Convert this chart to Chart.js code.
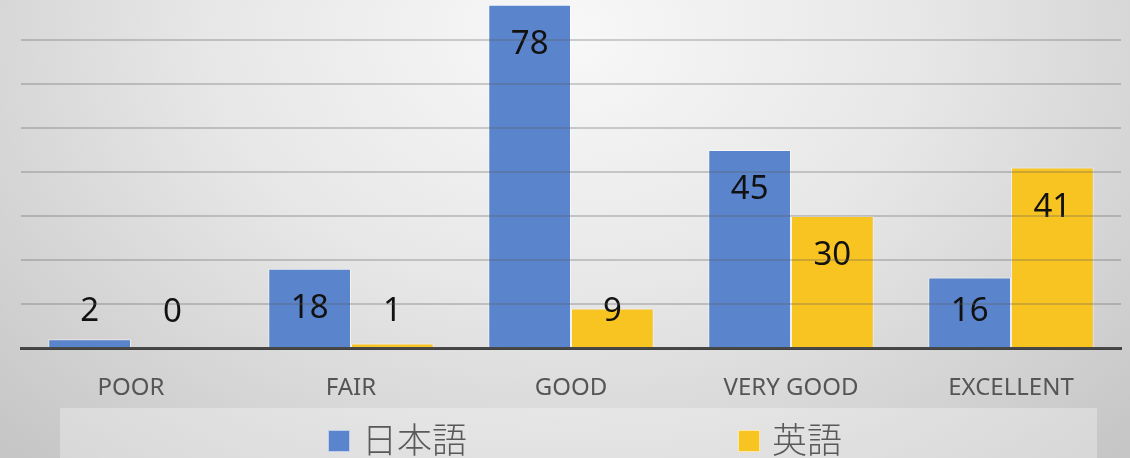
<!DOCTYPE html>
<html>
<head>
<meta charset="utf-8">
<script src="https://cdn.jsdelivr.net/npm/chart.js@4.4.1/dist/chart.umd.min.js"></script>
<style>
  html, body { margin: 0; padding: 0; }
  #wrap {
    position: relative;
    width: 1130px;
    height: 458px;
    overflow: hidden;
    background: radial-gradient(ellipse 70% 125% at 50% 8%, #f8f8f8 0%, #e7e7e7 45%, #c6c6c6 100%);
  }
  #chart { position: absolute; left: 0; top: -4px; }
</style>
</head>
<body>
<div id="wrap"><canvas id="chart" width="1130" height="462"></canvas></div>
<script>
// 評価ごとの件数
const categories = ['POOR', 'FAIR', 'GOOD', 'VERY GOOD', 'EXCELLENT'];
const seriesNames = ['日本語', '英語'];
const japaneseValues = [2, 18, 78, 45, 16];
const englishValues = [0, 1, 9, 30, 41];
const yTickStep = 10;
const yMax = 80;

const colors = ['#5a84cc', '#f8c422'];
const textFont = '"Noto Sans", "Open Sans", sans-serif';

// 棒の中(上端寄り)に値を表示
const valueLabels = {
  id: 'valueLabels',
  afterDatasetsDraw(chart) {
    const ctx = chart.ctx;
    ctx.save();
    ctx.font = '33px ' + textFont;
    ctx.fillStyle = '#111';
    ctx.textAlign = 'center';
    ctx.textBaseline = 'middle';
    chart.data.datasets.forEach((ds, i) => {
      chart.getDatasetMeta(i).data.forEach((bar, j) => {
        const y = Math.min(bar.y + 40, bar.base - 35);
        ctx.fillText(String(ds.data[j]), bar.x, y);
      });
    });
    ctx.restore();
  }
};

// 下部の凡例
const bottomLegend = {
  id: 'bottomLegend',
  afterDraw(chart) {
    const ctx = chart.ctx;
    const top = chart.height - 50;
    ctx.save();
    ctx.fillStyle = 'rgba(255,255,255,0.3)';
    ctx.fillRect(60, top, 1037, 50);
    const itemX = [328, 738];
    ctx.font = '300 35px "Noto Sans CJK JP", sans-serif';
    ctx.textBaseline = 'middle';
    ctx.textAlign = 'left';
    chart.data.datasets.forEach((ds, i) => {
      const x = itemX[i];
      ctx.fillStyle = ds.backgroundColor;
      ctx.fillRect(x, top + 22, 22, 22);
      ctx.strokeStyle = 'rgba(255,255,255,0.6)';
      ctx.lineWidth = 1;
      ctx.strokeRect(x + 0.5, top + 22.5, 21, 21);
      ctx.fillStyle = '#595959';
      ctx.fillText(ds.label, x + 34, top + 32);
    });
    ctx.restore();
  }
};

new Chart(document.getElementById('chart'), {
  type: 'bar',
  data: {
    labels: categories,
    datasets: [{
      label: seriesNames[0],
      data: japaneseValues,
      backgroundColor: colors[0],
      borderColor: 'rgba(255,255,255,0.55)',
      borderWidth: 1
    }, {
      label: seriesNames[1],
      data: englishValues,
      backgroundColor: colors[1],
      borderColor: 'rgba(255,255,255,0.55)',
      borderWidth: 1
    }]
  },
  options: {
    responsive: false,
    animation: false,
    layout: { padding: { left: 21, right: 9, top: 0, bottom: 0 } },
    datasets: {
      bar: { categoryPercentage: 0.752, barPercentage: 1 }
    },
    plugins: {
      legend: { display: false },
      tooltip: { enabled: false }
    },
    scales: {
      x: {
        grid: { display: false, drawTicks: false },
        border: { color: '#404040', width: 3 },
        ticks: {
          color: '#555',
          font: { family: textFont, size: 24 },
          padding: 26
        },
        afterFit: s => { s.height = 110; }
      },
      y: {
        min: 0,
        max: yMax,
        ticks: { display: false, stepSize: yTickStep },
        grid: { color: 'rgba(90,90,90,0.28)', lineWidth: 2, drawTicks: false, z: 1 },
        border: { display: false },
        afterFit: s => { s.width = 0; }
      }
    }
  },
  plugins: [valueLabels, bottomLegend]
});
</script>
</body>
</html>
